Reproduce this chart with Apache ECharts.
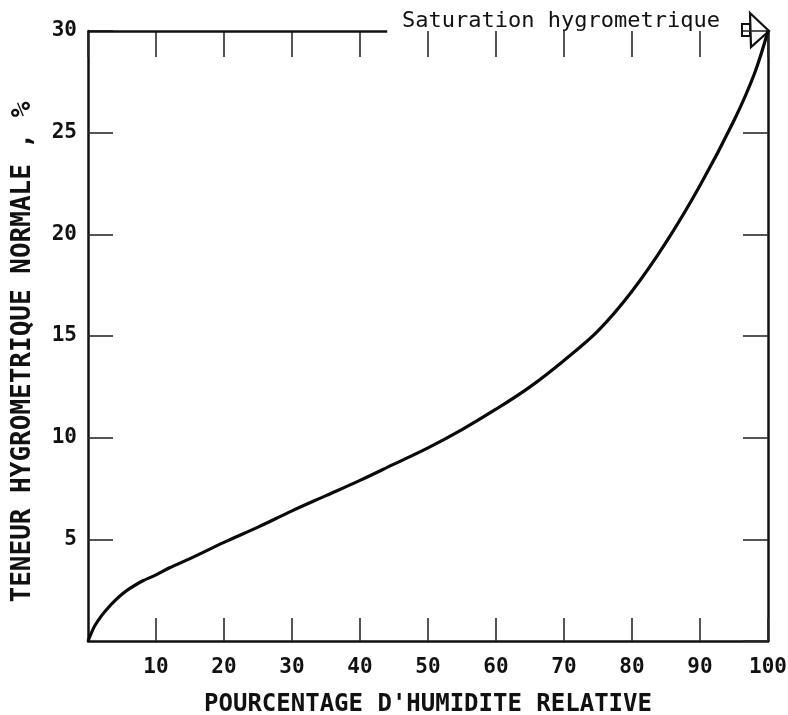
<!DOCTYPE html>
<html>
<head>
<meta charset="utf-8">
<script src="https://cdn.jsdelivr.net/npm/echarts@6/dist/echarts.min.js"></script>
<style>html,body{margin:0;padding:0;background:#fff}#c{width:788px;height:715px}</style>
</head>
<body>
<div id="c"></div>
<script>
var humidity = [0, 0.5, 1, 2, 3, 4, 5, 6, 8, 10, 12, 15, 20, 25, 30, 35, 40, 45, 50, 55, 60, 65, 70, 75, 80, 85, 90, 95, 98, 100];
var moisture = [0, 0.4, 0.75, 1.25, 1.65, 2.0, 2.3, 2.55, 2.95, 3.25, 3.6, 4.05, 4.85, 5.6, 6.4, 7.15, 7.9, 8.7, 9.5, 10.4, 11.4, 12.5, 13.8, 15.25, 17.2, 19.6, 22.4, 25.6, 27.9, 30];
var xTicks = [0, 10, 20, 30, 40, 50, 60, 70, 80, 90, 100];
var yTicks = [0, 5, 10, 15, 20, 25, 30];
var xTitle = "POURCENTAGE D'HUMIDITE RELATIVE";
var yTitle = "TENEUR HYGROMETRIQUE NORMALE , %";
var satLabel = "Saturation hygrometrique";
var topLineEnd = 44;

var FONT = "DejaVu Sans Mono";
var INK = "#111";
var TICK = "#2a2a2a";
var chart = echarts.init(document.getElementById('c'));
var pts = humidity.map(function (x, i) { return [x, moisture[i]]; });

function tickStyle(len) {
  return { show: true, inside: true, length: len, lineStyle: { color: TICK, width: 1.6 } };
}

chart.setOption({
  animation: false,
  backgroundColor: '#fff',
  grid: { left: 88, right: 20, top: 31, bottom: 74, containLabel: false, outerBoundsMode: 'none' },
  xAxis: [{
    type: 'value', min: xTicks[0], max: xTicks[xTicks.length - 1], interval: 10, position: 'bottom',
    axisLine: { show: true, onZero: false, lineStyle: { color: INK, width: 2.5 } },
    axisTick: tickStyle(23),
    axisLabel: { showMinLabel: false, margin: 16, color: INK, fontFamily: FONT, fontSize: 21, fontWeight: 'bold' },
    splitLine: { show: false },
    name: xTitle, nameLocation: 'middle', nameGap: 52,
    nameTextStyle: { color: INK, fontFamily: FONT, fontSize: 24, fontWeight: 'bold' }
  }, {
    type: 'value', min: xTicks[0], max: xTicks[xTicks.length - 1], interval: 10, position: 'top',
    axisLine: { show: false, onZero: false },
    axisTick: tickStyle(26),
    axisLabel: { show: false },
    splitLine: { show: false }
  }],
  yAxis: [{
    type: 'value', min: yTicks[0], max: yTicks[yTicks.length - 1], interval: 5, position: 'left',
    axisLine: { show: true, onZero: false, lineStyle: { color: INK, width: 2.5 } },
    axisTick: tickStyle(25),
    axisLabel: { showMinLabel: false, margin: 11, color: INK, fontFamily: FONT, fontSize: 21, fontWeight: 'bold' },
    splitLine: { show: false }
  }, {
    type: 'value', min: yTicks[0], max: yTicks[yTicks.length - 1], interval: 5, position: 'right',
    axisLine: { show: true, onZero: false, lineStyle: { color: INK, width: 2.5 } },
    axisTick: tickStyle(25),
    axisLabel: { show: false },
    splitLine: { show: false }
  }],
  graphic: [
    { type: 'text', left: 402, top: 10, style: { text: satLabel, fill: INK, font: '22px "DejaVu Sans Mono"' } },
    { type: 'text', x: 23, y: 352, rotation: Math.PI / 2, style: { text: yTitle, fill: INK, font: 'bold 26px "DejaVu Sans Mono"', align: 'center', verticalAlign: 'middle' } },
    { type: 'polygon', shape: { points: [[750, 13], [769, 31], [751, 47]] }, style: { fill: '#fff', stroke: INK, lineWidth: 2.2 } },
    { type: 'rect', shape: { x: 742, y: 24, width: 8, height: 12 }, style: { fill: '#fff', stroke: INK, lineWidth: 2 } }
  ],
  series: [{
    type: 'line', data: pts, smooth: 0.35, showSymbol: false, symbol: 'none',
    lineStyle: { color: '#0a0a0a', width: 3.2 },
    markLine: {
      silent: true, symbol: 'none', animation: false,
      label: { show: false },
      lineStyle: { color: INK, width: 2.5, type: 'solid' },
      data: [[{ coord: [0, 30] }, { coord: [topLineEnd, 30] }]]
    }
  }]
});
</script>
</body>
</html>
